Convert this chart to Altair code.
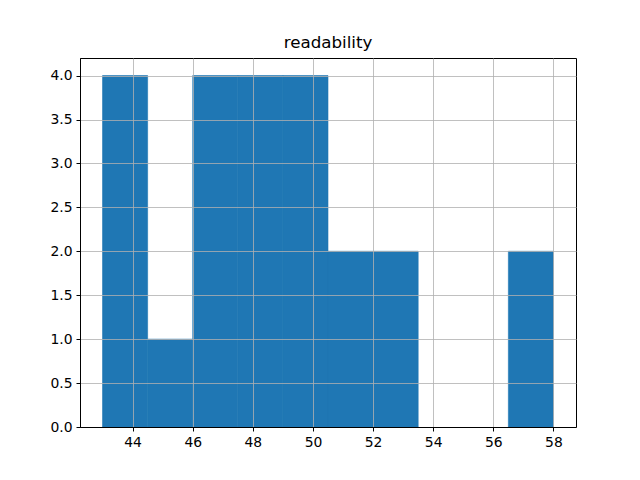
import altair as alt
import pandas as pd

bin_start = [43.0, 44.5, 46.0, 47.5, 49.0, 50.5, 52.0, 53.5, 55.0, 56.5]
bin_end = [44.5, 46.0, 47.5, 49.0, 50.5, 52.0, 53.5, 55.0, 56.5, 58.0]
counts = [4, 1, 4, 4, 4, 2, 2, 0, 0, 2]
x_ticks = [44, 46, 48, 50, 52, 54, 56, 58]
y_ticks = [0, 0.5, 1.0, 1.5, 2.0, 2.5, 3.0, 3.5, 4.0]

df = pd.DataFrame({"start": bin_start, "end": bin_end, "count": counts})

font = "DejaVu Sans"

xscale = alt.Scale(domain=[42.25, 58.75], nice=False, zero=False)
yscale = alt.Scale(domain=[0, 4.2], nice=False)

chart = alt.Chart(df).transform_filter(
    alt.datum["count"] > 0
).mark_rect(color="#1f77b4", stroke="#1f77b4", strokeWidth=0.6).encode(
    x=alt.X("start:Q", scale=xscale,
            axis=alt.Axis(values=x_ticks, title=None, grid=True, gridColor="#b0b0b0",
                          gridWidth=0.8, zindex=1, domainColor="black", tickColor="black",
                          tickSize=4, labelFontSize=13.9, labelFont=font, labelColor="black",
                          labelPadding=4, format="d", labelFlush=False)),
    x2="end:Q",
    y=alt.Y("count:Q", scale=yscale,
            axis=alt.Axis(values=y_ticks, title=None, grid=True, gridColor="#b0b0b0",
                          gridWidth=0.8, zindex=1, domainColor="black", tickColor="black",
                          tickSize=4, labelFontSize=13.9, labelFont=font, labelColor="black",
                          labelPadding=4, format=".1f", labelFlush=False)),
    y2=alt.datum(0),
).properties(
    width=496,
    height=369,
    title=alt.TitleParams("readability", font=font, fontSize=16.7, fontWeight="normal",
                          color="black", anchor="middle", offset=6),
    autosize=alt.AutoSizeParams(type="none"),
    padding={"left": 72, "top": 50, "right": 56, "bottom": 45},
).configure_view(stroke="black", strokeWidth=1)

chart.save("out.html", embed_options={"renderer": "svg", "actions": False})
